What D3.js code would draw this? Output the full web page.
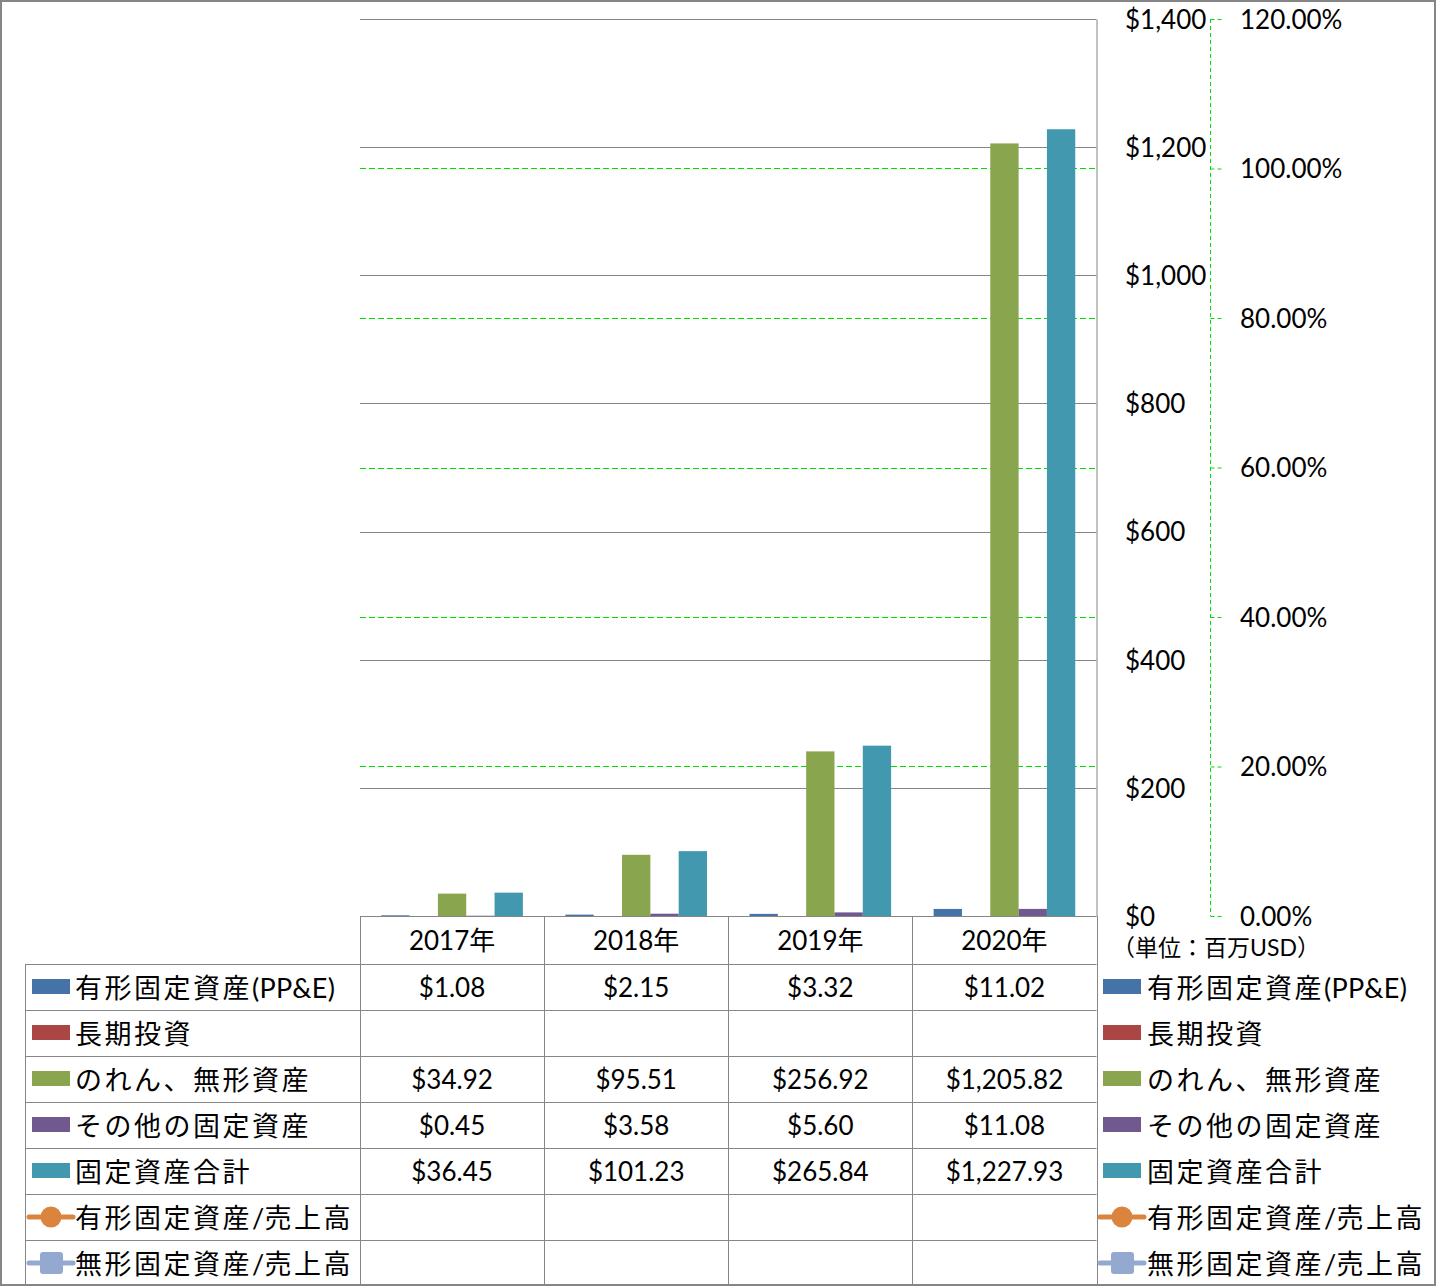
<!DOCTYPE html>
<html>
<head>
<meta charset="utf-8">
<script src="https://cdn.jsdelivr.net/npm/d3@7"></script>
<style>
  html, body { margin: 0; padding: 0; background: #fff; }
  svg { display: block; }
  text { font-family: Lato, "Noto Sans CJK JP", sans-serif; fill: #000; }
</style>
</head>
<body>
<svg id="chart" width="1436" height="1286"></svg>
<script>
// ---- data ----
const categories = ["2017年", "2018年", "2019年", "2020年"];
const seriesNames = ["有形固定資産(PP&E)", "長期投資", "のれん、無形資産", "その他の固定資産", "固定資産合計", "有形固定資産/売上高", "無形固定資産/売上高"];
const ppe = [1.08, 2.15, 3.32, 11.02];
const longTermInvestment = [null, null, null, null];
const goodwillIntangibles = [34.92, 95.51, 256.92, 1205.82];
const otherFixedAssets = [0.45, 3.58, 5.60, 11.08];
const totalFixedAssets = [36.45, 101.23, 265.84, 1227.93];
const ppeToSales = [null, null, null, null];
const intangiblesToSales = [null, null, null, null];
const yTickValues = [0, 200, 400, 600, 800, 1000, 1200, 1400];
const y2TickValues = [0, 0.2, 0.4, 0.6, 0.8, 1.0, 1.2];
const unitLabel = "（単位：百万USD）";

const barSeries = [ppe, longTermInvestment, goodwillIntangibles, otherFixedAssets, totalFixedAssets];
const allSeries = [ppe, longTermInvestment, goodwillIntangibles, otherFixedAssets, totalFixedAssets, ppeToSales, intangiblesToSales];
const colors = ["#4572A7", "#AA4643", "#89A54E", "#71588F", "#4198AF", "#DB843D", "#93A9CF"];
const seriesType = ["bar", "bar", "bar", "bar", "bar", "circle", "square"];

// ---- layout ----
const svg = d3.select("#chart");
const W = 1436, H = 1286;
const plotL = 360, plotR = 1096.5, plotT = 19, plotB = 916;
const tableL = 25, rowH = 46, headerB = 964;
const gridColor = "#868686";

const x = d3.scaleBand().domain(categories).range([plotL, plotR]).paddingInner(0).paddingOuter(0);
const xInner = d3.scaleBand().domain(d3.range(barSeries.length)).range([0, x.bandwidth()]).paddingInner(0).paddingOuter(0.75);
const y = d3.scaleLinear().domain([0, 1400]).range([plotB, plotT]);
const y2 = d3.scaleLinear().domain([0, 1.2]).range([plotB, plotT]);

const fmtAxis = d3.format("$,");
const fmtVal = d3.format("$,.2f");
const fmtPct = d3.format(".2%");

// outer border
svg.append("rect").attr("x", 1).attr("y", 1).attr("width", W - 2).attr("height", H - 2)
  .attr("fill", "#fff").attr("stroke", gridColor).attr("stroke-width", 2);

// secondary gridlines (green dashed)
svg.append("g").selectAll("line").data(y2TickValues.filter(v => v > 0 && v < 1.2)).join("line")
  .attr("x1", plotL).attr("x2", plotR)
  .attr("y1", d => Math.round(y2(d)) + 0.5).attr("y2", d => Math.round(y2(d)) + 0.5)
  .attr("stroke", "#00E000").attr("stroke-width", 1).attr("stroke-dasharray", "6,3");

// primary gridlines (grey solid)
svg.append("g").selectAll("line").data(yTickValues.filter(v => v > 0)).join("line")
  .attr("x1", plotL).attr("x2", plotR)
  .attr("y1", d => Math.round(y(d)) + 0.5).attr("y2", d => Math.round(y(d)) + 0.5)
  .attr("stroke", gridColor).attr("stroke-width", 1);

// bars
const barG = svg.append("g");
barSeries.forEach((vals, si) => {
  barG.selectAll(null).data(vals.map((v, i) => ({ v, c: categories[i] })).filter(d => d.v != null)).join("rect")
    .attr("x", d => x(d.c) + xInner(si))
    .attr("width", xInner.bandwidth())
    .attr("y", d => y(d.v))
    .attr("height", d => y(0) - y(d.v))
    .attr("fill", colors[si]);
});

// primary axis (right side, labels left-aligned)
const yAxis = d3.axisRight(y).tickValues(yTickValues).tickFormat(fmtAxis).tickSize(0).tickPadding(0);
const yAxisG = svg.append("g").attr("transform", `translate(${plotR},0)`).call(yAxis);
yAxisG.select(".domain").attr("stroke", gridColor).attr("stroke-width", 1);
yAxisG.selectAll("text").attr("x", 1125 - plotR).attr("dy", "0.36em")
  .attr("font-size", 26).attr("font-family", "Lato, 'Noto Sans CJK JP', sans-serif").attr("text-anchor", "start");

// secondary axis (green dashed)
const y2Axis = d3.axisRight(y2).tickValues(y2TickValues).tickFormat(fmtPct).tickSize(11).tickPadding(0);
const y2AxisG = svg.append("g").attr("transform", "translate(1210.5,0)").call(y2Axis);
y2AxisG.select(".domain").attr("stroke", "#00E000").attr("stroke-dasharray", "4,3").attr("d", `M0,${plotT}V${plotB}`);
y2AxisG.selectAll(".tick line").attr("stroke", "#00E000").attr("stroke-dasharray", "4,3");
y2AxisG.selectAll("text").attr("x", 1240 - 1210.5).attr("dy", "0.36em")
  .attr("font-size", 26).attr("font-family", "Lato, 'Noto Sans CJK JP', sans-serif").attr("text-anchor", "start");

// unit label
svg.append("text").attr("x", 1112).attr("y", 948).attr("dy", "0.36em")
  .attr("font-size", 23).attr("font-family", "'Noto Sans CJK JP', sans-serif").text(unitLabel);

// ---- data table ----
const tbl = svg.append("g").attr("stroke", gridColor).attr("stroke-width", 1);
tbl.append("line").attr("x1", plotL).attr("x2", plotR).attr("y1", plotB + 0.5).attr("y2", plotB + 0.5);
d3.range(allSeries.length).forEach(i => {
  const yy = headerB + i * rowH + 0.5;
  tbl.append("line").attr("x1", tableL).attr("x2", plotR).attr("y1", yy).attr("y2", yy);
});
const colEdges = categories.map(c => x(c)).concat([plotR]);
colEdges.forEach(cx => {
  const xx = Math.round(cx) + 0.5;
  tbl.append("line").attr("x1", xx).attr("x2", xx).attr("y1", plotB).attr("y2", H);
});
tbl.append("line").attr("x1", tableL + 0.5).attr("x2", tableL + 0.5).attr("y1", headerB).attr("y2", H);

// header labels
svg.append("g").selectAll("text").data(categories).join("text")
  .attr("x", d => x(d) + x.bandwidth() / 2).attr("y", (plotB + headerB) / 2 + 1).attr("dy", "0.36em")
  .attr("text-anchor", "middle").attr("font-size", 26).text(d => d);

// values
allSeries.forEach((vals, si) => {
  const cy = headerB + si * rowH + rowH / 2 + 1;
  svg.append("g").selectAll("text").data(vals.map((v, i) => ({ v, c: categories[i] })).filter(d => d.v != null)).join("text")
    .attr("x", d => x(d.c) + x.bandwidth() / 2).attr("y", cy).attr("dy", "0.36em")
    .attr("text-anchor", "middle").attr("font-size", 26).text(d => fmtVal(d.v));
});

// legend keys (in table and on right)
function drawKey(g, kx, cy, si) {
  const type = seriesType[si], col = colors[si];
  if (type === "bar") {
    g.append("rect").attr("x", kx).attr("y", cy - 8).attr("width", 38).attr("height", 15).attr("fill", col);
  } else {
    g.append("line").attr("x1", kx - 3).attr("x2", kx + 41).attr("y1", cy).attr("y2", cy)
      .attr("stroke", col).attr("stroke-width", 5).attr("stroke-linecap", "round");
    if (type === "circle") {
      g.append("circle").attr("cx", kx + 19).attr("cy", cy).attr("r", 10.5).attr("fill", col);
    } else {
      g.append("rect").attr("x", kx + 8).attr("y", cy - 11).attr("width", 23).attr("height", 22).attr("rx", 3).attr("fill", col);
    }
  }
}
function splitRuns(s) {
  return s.match(/[\x00-\x7F]+|[^\x00-\x7F]+/g);
}
const legG = svg.append("g");
seriesNames.forEach((name, si) => {
  const cy = headerB + si * rowH + rowH / 2;
  [[32, 75], [1103, 1147]].forEach(([kx, tx]) => {
    drawKey(legG, kx, cy, si);
    const t = legG.append("text").attr("x", tx).attr("y", cy + 1).attr("dy", "0.36em").attr("font-size", 27);
    splitRuns(name).forEach(run => {
      t.append("tspan").attr("letter-spacing", /^[\x00-\x7F]+$/.test(run) ? 0.3 : 2.5).text(run);
    });
  });
});
</script>
</body>
</html>
